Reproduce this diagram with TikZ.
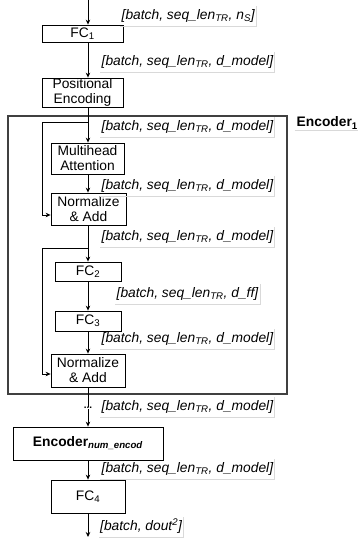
\documentclass[tikz,border=0pt]{standalone}
\usepackage{fontspec}
\setmainfont{Liberation Sans}
\usepackage{tikz}
\usetikzlibrary{arrows.meta,positioning,calc}

\begin{document}
\begin{tikzpicture}[
    x=1pt, y=-1pt,
    font=\fontsize{13.8}{15}\selectfont,
    block/.style n args={2}{rectangle, draw, line width=0.8pt, minimum width=#1, minimum height=#2, inner sep=0pt, align=center},
    frame/.style={rectangle, draw=black!75, line width=1.2pt, minimum width=279, minimum height=278, inner sep=0pt},
    dims/.style={anchor=west, font=\fontsize{13.8}{15}\selectfont\itshape, text height=10.5pt, text depth=3pt, inner xsep=1.5pt, inner ysep=3pt},
    rim/.style={draw=black!15, line width=0.8pt},
    arrow/.style={-{Stealth[length=5pt,width=4.5pt]}, line width=0.8pt}
]
\useasboundingbox (0,0) rectangle (358,538);
\coordinate (src) at (88,0);
\coordinate (snk) at (88,537);
\node[block={81}{17}] (fc1) at (82.5,33.5) {FC\textsubscript{1}};
\node[block={81}{29}] (pe) at (82.5,92.5) {Positional\\Encoding};
\node[frame] (enc1) at (147.5,255) {};
\node[anchor=west, font=\fontsize{13.8}{15}\selectfont\bfseries, inner xsep=2pt, inner ysep=1.5pt] (enc1lbl) at (294.5,123) {Encoder\textsubscript{1}};
\node[block={73}{31}] (mha) at (87.5,158.5) {Multihead\\Attention};
\node[block={75}{32}] (norm1) at (88.5,209) {Normalize\\\& Add};
\node[block={66}{19}] (fc2) at (88,271.5) {FC\textsubscript{2}};
\node[block={66}{20}] (fc3) at (88,321) {FC\textsubscript{3}};
\node[block={74}{33}] (norm2) at (88,370.5) {Normalize\\\& Add};
\node[inner sep=0.5pt, font=\fontsize{10}{10}\selectfont\bfseries] (dots) at (88,408) {...};
\node[block={150}{33}] (encn) at (88,443.5) {\textbf{Encoder\textsubscript{\textit{num\_encod}}}};
\node[block={74}{33}] (fc4) at (88,496.5) {FC\textsubscript{4}};
\coordinate (tap1) at (88,122);
\coordinate (tap2) at (88,248);
% tensor shapes
\node[dims] (l1) at (120,16) {[batch, seq\_len\textsubscript{TR}, n\textsubscript{S}]};
\node[dims] (l2) at (100,62) {[batch, seq\_len\textsubscript{TR}, d\_model]};
\node[dims] (l3) at (100,127) {[batch, seq\_len\textsubscript{TR}, d\_model]};
\node[dims] (l4) at (100,186) {[batch, seq\_len\textsubscript{TR}, d\_model]};
\node[dims] (l5) at (100,237) {[batch, seq\_len\textsubscript{TR}, d\_model]};
\node[dims] (l6) at (115,294) {[batch, seq\_len\textsubscript{TR}, d\_ff]};
\node[dims] (l7) at (100,339) {[batch, seq\_len\textsubscript{TR}, d\_model]};
\node[dims] (l8) at (100,407) {[batch, seq\_len\textsubscript{TR}, d\_model]};
\node[dims] (l9) at (100,469) {[batch, seq\_len\textsubscript{TR}, d\_model]};
\node[dims] (l10) at (98.5,527) {[batch, dout\textsuperscript{2}]};
\foreach \l in {l1,l2,l3,l4,l5,l6,l7,l8,l9,l10} {\draw[rim] (\l.north east) |- (\l.south west);}
\draw[rim] (enc1lbl.south west) -- (enc1lbl.south east);
% main path
\draw[arrow] (src) -- (src |- fc1.north);
\draw[arrow] (fc1.south -| src) -- (pe.north -| src);
\draw[arrow] (pe.south -| src) -- (mha.north -| src);
\draw[arrow] (mha.south -| src) -- (norm1.north -| src);
\draw[arrow] (norm1.south -| src) -- (fc2.north -| src);
\draw[arrow] (fc2) -- (fc3);\draw[arrow] (fc3) -- (norm2);
\draw (norm2) -- (dots);\draw[arrow] (dots) -- (encn);
\draw[arrow] (encn) -- (fc4);\draw[arrow] (fc4) -- (snk);
% residual branches
\draw[arrow] (tap1) -- ++(-46,0) |- ([yshift=-6pt]norm1.west);
\draw[arrow] (tap2) -- ++(-46,0) |- ([yshift=-3.5pt]norm2.west);
\end{tikzpicture}
\end{document}
